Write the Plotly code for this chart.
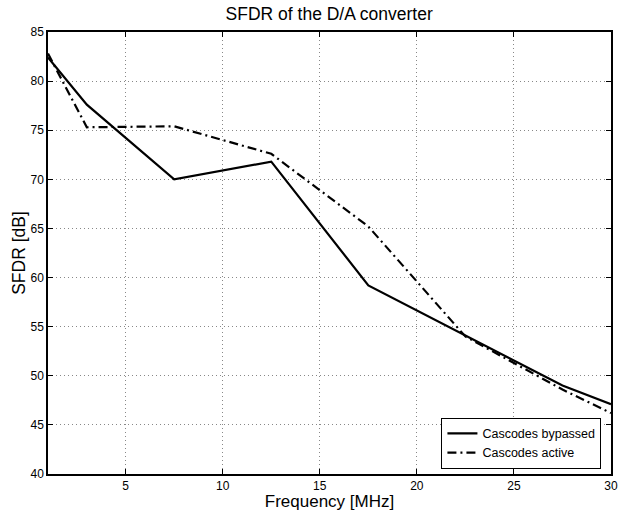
import plotly.graph_objects as go

freq = [1, 3, 7.5, 12.5, 17.5, 22.5, 27.5, 30]
sfdr_bypassed = [82.4, 77.6, 70.0, 71.8, 59.2, 54.1, 49.0, 47.1]
sfdr_active = [82.8, 75.3, 75.4, 72.6, 65.2, 54.0, 48.6, 46.2]
x_ticks = [5, 10, 15, 20, 25, 30]
y_ticks = [40, 45, 50, 55, 60, 65, 70, 75, 80, 85]

FONT = "Liberation Sans, Arial, Helvetica, sans-serif"

fig = go.Figure()
fig.add_trace(go.Scatter(x=freq, y=sfdr_bypassed, mode="lines", name="Cascodes bypassed",
                         line=dict(color="black", width=2.2)))
fig.add_trace(go.Scatter(x=freq, y=sfdr_active, mode="lines", name="Cascodes active",
                         line=dict(color="black", width=2.2, dash="9px,4px,2px,4px")))

axis_common = dict(showline=True, linecolor="black", linewidth=1.5, mirror="ticks",
                   ticks="inside", ticklen=5, tickcolor="black", automargin=False,
                   showgrid=True, gridcolor="#888888", griddash="1px,3px", gridwidth=1,
                   zeroline=False, tickfont=dict(size=12, color="black", family=FONT))

fig.update_layout(
    width=627, height=511,
    margin=dict(l=48, r=16, t=32, b=37),
    paper_bgcolor="white", plot_bgcolor="white",
    font=dict(family=FONT, color="black"),
    title=dict(text="SFDR of the D/A converter", x=0.525, xanchor="center",
               y=0.973, yanchor="middle", font=dict(size=17.5)),
    xaxis=dict(range=[1, 30], tickvals=x_ticks,
               title=dict(text="Frequency [MHz]", font=dict(size=17), standoff=4),
               **axis_common),
    yaxis=dict(range=[40, 85], tickvals=y_ticks,
               title=dict(text="SFDR [dB]", font=dict(size=17.5), standoff=0),
               **axis_common),
    legend=dict(x=0.983, y=0.012, xanchor="right", yanchor="bottom",
                bordercolor="black", borderwidth=1, bgcolor="white",
                font=dict(size=12.5), tracegroupgap=0, itemwidth=30),
    showlegend=True,
)

fig.write_html("out.html", config={"displayModeBar": False},
               post_script="document.body.style.margin='0px';")
